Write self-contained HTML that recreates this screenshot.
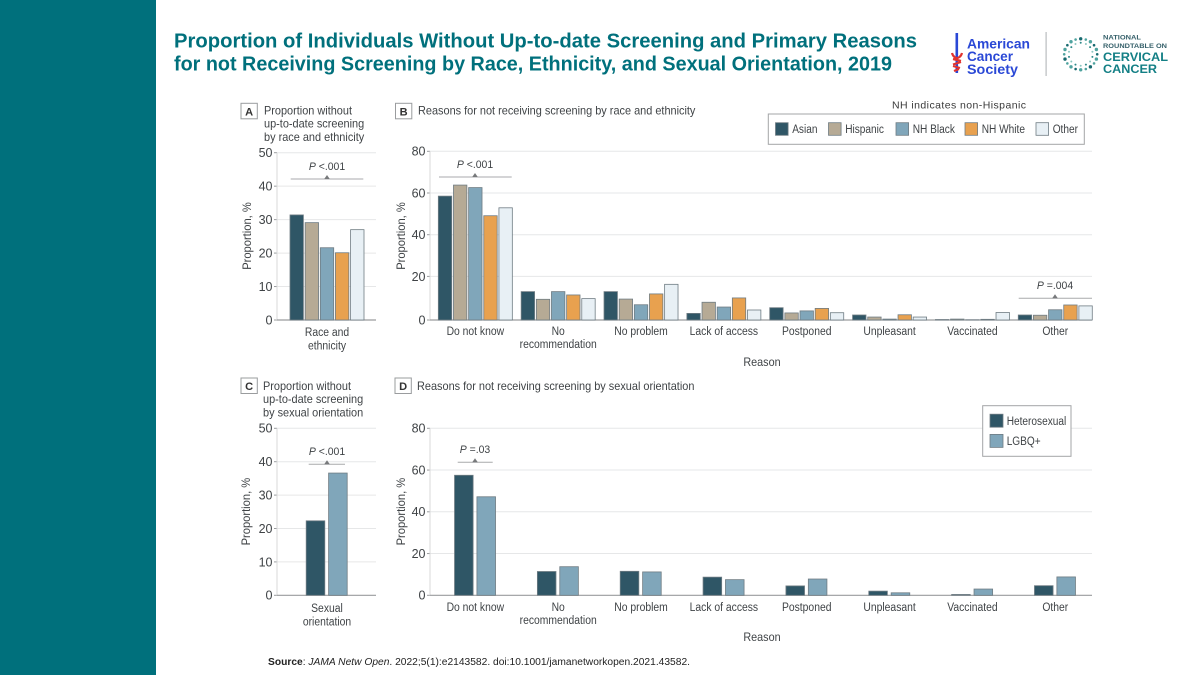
<!DOCTYPE html>
<html lang="en">
<head>
<meta charset="utf-8">
<title>Proportion of Individuals Without Up-to-date Screening</title>
<style>
html,body{margin:0;padding:0;background:#fff;width:1200px;height:675px;overflow:hidden}
svg{display:block;font-family:"Liberation Sans",sans-serif}
</style>
</head>
<body>
<svg id="slide" xmlns="http://www.w3.org/2000/svg" width="1200" height="675" viewBox="0 0 1200 675">
  <rect x="0" y="0" width="1200" height="675" fill="#fff"/>
  <rect x="0" y="0" width="156" height="675" fill="#00707c"/>
  <g fill="#00707c" font-weight="700" font-size="20">
    <text x="174" y="47.5" textLength="743" lengthAdjust="spacingAndGlyphs">Proportion of Individuals Without Up-to-date Screening and Primary Reasons</text>
    <text x="174" y="70.5" textLength="718" lengthAdjust="spacingAndGlyphs">for not Receiving Screening by Race, Ethnicity, and Sexual Orientation, 2019</text>
  </g>
  <g>
    <rect x="955.5" y="33" width="2.6" height="40" fill="#2a48d6"/>
    <path d="M952 53c1 4 4 5 5 5s4-1 5-5M953 59l8 2M961 62l-8 2.500M953 66l7 2M959 69l-5 2" fill="none" stroke="#e0332f" stroke-width="2.200"/>
    <g fill="#2a48d6" font-weight="700" font-size="13.500">
      <text x="967" y="48.5" textLength="63" lengthAdjust="spacingAndGlyphs">American</text>
      <text x="967" y="61" textLength="46" lengthAdjust="spacingAndGlyphs">Cancer</text>
      <text x="967" y="74" textLength="51" lengthAdjust="spacingAndGlyphs">Society</text>
    </g>
    <rect x="1045.5" y="32" width="1.2" height="44" fill="#b8bcbf"/>
  </g>
  <g id="roundtable-logo">
    <g fill="#35606a">
      <text x="1103" y="39.5" font-size="6.500" font-weight="700" textLength="38" lengthAdjust="spacingAndGlyphs">NATIONAL</text>
      <text x="1103" y="48" font-size="6.500" font-weight="700" textLength="64" lengthAdjust="spacingAndGlyphs">ROUNDTABLE ON</text>
    </g>
    <g fill="#137f85" font-weight="700" font-size="12.200">
      <text x="1103" y="61" textLength="65" lengthAdjust="spacingAndGlyphs">CERVICAL</text>
      <text x="1103" y="72.8" textLength="54" lengthAdjust="spacingAndGlyphs">CANCER</text>
    </g>
  </g>
  <text x="892" y="108.5" font-size="10.500" fill="#3a3a3a" textLength="134" lengthAdjust="spacing">NH indicates non-Hispanic</text>
  <g id="charts"></g>
  <text x="268" y="665" font-size="10" fill="#222" textLength="422" lengthAdjust="spacingAndGlyphs"><tspan font-weight="700">Source</tspan>: <tspan font-style="italic">JAMA Netw Open</tspan>. 2022;5(1):e2143582. doi:10.1001/jamanetworkopen.2021.43582.</text>
</svg>
<script>
// ---- chart data ----
const reasonCategories = ["Do not know", "No|recommendation", "No problem", "Lack of access", "Postponed", "Unpleasant", "Vaccinated", "Other"];
const raceGroups = ["Asian", "Hispanic", "NH Black", "NH White", "Other"];
const orientationGroups = ["Heterosexual", "LGBQ+"];

const ticksA = [0, 10, 20, 30, 40, 50];
const ticksB = [0, 20, 40, 60, 80];

const raceOverall = [31.4, 29.1, 21.6, 20.1, 27];
const orientationOverall = [22.3, 36.6];

const asianReasons = [58.5, 12.7, 12.7, 2.9, 5.4, 2.2, 0.2, 2.2];
const hispanicReasons = [63.8, 9.1, 9.2, 7.8, 3.1, 1.3, 0.4, 2.1];
const nhBlackReasons = [62.6, 12.7, 6.7, 5.7, 4, 0.4, 0.1, 4.5];
const nhWhiteReasons = [49.1, 11.1, 11.6, 9.7, 5.1, 2.3, 0.3, 6.6];
const otherReasons = [52.9, 9.4, 16.2, 4.4, 3.2, 1.3, 3.3, 6.2];

const heterosexualReasons = [57.5, 11.4, 11.5, 8.7, 4.5, 2, 0.4, 4.6];
const lgbqReasons = [47.2, 13.7, 11.2, 7.5, 7.8, 1.2, 3, 8.8];

// ---- helpers ----
const NS = "http://www.w3.org/2000/svg";
const root = document.getElementById("charts");
const INK = "#3f4346";
const AXIS = "#9a9c9e";
const GRID = "#e6e7e8";
const EDGE = "#6f7c83";
const raceColors = ["#2f5666", "#b6aa95", "#80a6ba", "#e8a14f", "#e8f0f5"];
const orientationColors = ["#2f5666", "#80a6ba"];

function shape(tag, attrs, name, parent) {
  const el = document.createElementNS(NS, tag);
  for (const k in attrs) el.setAttribute(k, attrs[k]);
  
  
  (parent || root).appendChild(el);
  return el;
}
function label(x, y, str, name, opts) {
  const o = opts || {};
  const el = shape("text", {x: x, y: y, "font-size": o.size || 11.5, fill: o.fill || INK, "text-anchor": o.anchor || "start"}, name, o.parent);
  if (o.bold) el.setAttribute("font-weight", "700");
  if (o.rotate) el.setAttribute("transform", "rotate(-90 " + x + " " + y + ")");
  if (o.pfx) {
    const t = document.createElementNS(NS, "tspan");
    t.setAttribute("font-style", "italic");
    t.textContent = "P";
    el.appendChild(t);
    el.appendChild(document.createTextNode(" " + str));
  } else {
    el.textContent = str;
  }
  const w = el.getComputedTextLength();
  if (w > 0) {
    el.setAttribute("textLength", (w * (o.squeeze || 0.9)).toFixed(1));
    el.setAttribute("lengthAdjust", "spacingAndGlyphs");
  }
  return el;
}
function linearScale(ticks, base, top) {
  const max = ticks[ticks.length - 1];
  return v => base - (v / max) * (base - top);
}
function axes(name, ticks, y, left, right, base) {
  const g = shape("g", {}, name + "-axes");
  const top = y(ticks[ticks.length - 1]);
  ticks.forEach(t => {
    if (t !== 0) shape("line", {x1: left, x2: right, y1: y(t), y2: y(t), stroke: GRID, "stroke-width": 1}, name + "-gridline", g);
    shape("line", {x1: left - 3, x2: left, y1: y(t), y2: y(t), stroke: AXIS, "stroke-width": 1}, name + "-tick", g);
    label(left - 4.5, y(t) + 4.4, String(t), name + "-tick-label", {anchor: "end", size: 12.5, parent: g, squeeze: 1});
  });
  shape("line", {x1: left, x2: left, y1: top, y2: base, stroke: "#d8d9da", "stroke-width": 1}, name + "-y-axis", g);
  shape("line", {x1: left, x2: right, y1: base, y2: base, stroke: AXIS, "stroke-width": 1.2}, name + "-x-axis", g);
}
function bar(cx, v, w, y, base, color, name) {
  shape("rect", {x: cx - w / 2, y: y(v), width: w, height: Math.max(base - y(v), 0), fill: color, stroke: EDGE, "stroke-width": 0.8}, name);
}
function marker(cx, x1, x2, lineY, textY, text, name) {
  shape("line", {x1: x1, x2: x2, y1: lineY, y2: lineY, stroke: "#a8aaac", "stroke-width": 1}, name + "-bracket");
  shape("path", {d: "M" + (cx - 2.8) + " " + lineY + "L" + cx + " " + (lineY - 4) + "L" + (cx + 2.8) + " " + lineY + "Z", fill: "#77797b"}, name + "-arrow");
  label(cx, textY, text, name + "-p-value", {anchor: "middle", size: 11, pfx: true, squeeze: 0.95});
}
function panelHead(x, y, letter, lines, tx, firstY, name) {
  shape("rect", {x: x, y: y, width: 16.3, height: 15.5, fill: "#fff", stroke: "#9a9c9e", "stroke-width": 1}, name + "-badge");
  label(x + 8.1, y + 12, letter, name + "-letter", {anchor: "middle", size: 11, bold: true, fill: "#333", squeeze: 1});
  lines.forEach((s, i) => label(tx, firstY + i * 13.2, s, name + "-title-line", {size: 12, fill: "#3f4346", squeeze: 0.91}));
}
function yTitle(x, cy, name) {
  label(x, cy, "Proportion, %", name, {anchor: "middle", size: 12, rotate: true, squeeze: 0.93});
}
function multiline(cx, y, str, step, name) {
  str.split("|").forEach((s, i) => label(cx, y + i * step, s, name, {anchor: "middle", size: 11.5}));
}

// ---- Panel A ----
panelHead(241, 103.3, "A", ["Proportion without", "up-to-date screening", "by race and ethnicity"], 264, 114.5, "panel-a");
yTitle(251, 236, "panel-a-y-title");
const yA = linearScale(ticksA, 320, 152.7);
axes("panel-a", ticksA, yA, 277, 376, 320);
raceOverall.forEach((v, i) => bar(327 + (i - 2) * 15.15, v, 13.4, yA, 320, raceColors[i], "panel-a-bar-" + raceGroups[i].toLowerCase().replace(" ", "-")));
multiline(327, 336, "Race and|ethnicity", 13.5, "panel-a-x-label");
marker(327, 290.7, 363.3, 179, 170, "<.001", "panel-a");

// ---- Panel B ----
panelHead(395.5, 103.3, "B", ["Reasons for not receiving screening by race and ethnicity"], 418, 114.5, "panel-b");
yTitle(405, 236, "panel-b-y-title");
// the source figure has a small lift between the baseline and the first gridlines
const yB = v => 320 - (1.9 * Math.min(1, v / 10) + v * 2.085);
axes("panel-b", ticksB, yB, 430, 1092, 320);
const bandLeft = 433.9;
const bandWidth = 82.85;
const band = i => bandLeft + (i + 0.5) * bandWidth;
const raceSeries = [asianReasons, hispanicReasons, nhBlackReasons, nhWhiteReasons, otherReasons];
raceSeries.forEach((series, j) => {
  series.forEach((v, i) => bar(band(i) + (j - 2) * 15.15, v, 13.4, yB, 320, raceColors[j], "panel-b-bar-" + raceGroups[j].toLowerCase().replace(" ", "-")));
});
reasonCategories.forEach((c, i) => multiline(band(i), 335, c, 13, "panel-b-x-label"));
label(762, 366, "Reason", "panel-b-x-title", {anchor: "middle", size: 12});
marker(475, 439, 511.7, 177, 168, "<.001", "panel-b-first");
marker(1055, 1018.7, 1092, 298.3, 289, "=.004", "panel-b-other");

// legend B
const legB = shape("g", {}, "race-legend");
shape("rect", {x: 768.3, y: 114, width: 316, height: 30.3, fill: "#fff", stroke: "#a3a5a7", "stroke-width": 1}, "race-legend-frame", legB);
const legendBX = [775.5, 828.5, 896, 965, 1036];
raceGroups.forEach((g, i) => {
  shape("rect", {x: legendBX[i], y: 122.7, width: 12.6, height: 12.6, fill: raceColors[i], stroke: EDGE, "stroke-width": 0.8}, "race-legend-swatch", legB);
  label(legendBX[i] + 16.7, 133, g, "race-legend-label", {size: 11.5, parent: legB, squeeze: 0.88});
});

// ---- Panel C ----
panelHead(241, 378, "C", ["Proportion without", "up-to-date screening", "by sexual orientation"], 263, 390, "panel-c");
yTitle(250, 511.6, "panel-c-y-title");
const yC = linearScale(ticksA, 595.3, 428.3);
axes("panel-c", ticksA, yC, 277, 376, 595.3);
orientationOverall.forEach((v, i) => bar(315.5 + i * 22.4, v, 18.6, yC, 595.3, orientationColors[i], "panel-c-bar-" + orientationGroups[i].toLowerCase()));
multiline(327, 612, "Sexual|orientation", 13.5, "panel-c-x-label");
marker(327, 308.7, 345, 464.3, 455, "<.001", "panel-c");

// ---- Panel D ----
panelHead(395, 378, "D", ["Reasons for not receiving screening by sexual orientation"], 417, 390, "panel-d");
yTitle(405, 511.6, "panel-d-y-title");
const yD = linearScale(ticksB, 595.3, 428.3);
axes("panel-d", ticksB, yD, 430, 1092, 595.3);
const orientationSeries = [heterosexualReasons, lgbqReasons];
orientationSeries.forEach((series, j) => {
  series.forEach((v, i) => bar(band(i) - 0.3 + (j - 0.5) * 22.4, v, 18.6, yD, 595.3, orientationColors[j], "panel-d-bar-" + orientationGroups[j].toLowerCase()));
});
reasonCategories.forEach((c, i) => multiline(band(i), 611, c, 13, "panel-d-x-label"));
label(762, 641, "Reason", "panel-d-x-title", {anchor: "middle", size: 12});
marker(475, 457.7, 492.7, 462.3, 453, "=.03", "panel-d-first");

// legend D
const legD = shape("g", {}, "orientation-legend");
shape("rect", {x: 982.7, y: 405.7, width: 88.3, height: 50.6, fill: "#fff", stroke: "#a3a5a7", "stroke-width": 1}, "orientation-legend-frame", legD);
orientationGroups.forEach((g, i) => {
  shape("rect", {x: 990, y: 414.2 + i * 20.2, width: 13, height: 13, fill: orientationColors[i], stroke: EDGE, "stroke-width": 0.8}, "orientation-legend-swatch", legD);
  label(1006.7, 425 + i * 20.2, g, "orientation-legend-label", {size: 11.5, parent: legD, squeeze: 0.88});
});

// ---- round table logo ring (decorative) ----
const logo = document.getElementById("roundtable-logo");
for (let i = 0; i < 20; i++) {
  const a = i / 20 * Math.PI * 2;
  shape("circle", {cx: 1080.7 + 16.5 * Math.cos(a), cy: 54.3 + 15.5 * Math.sin(a), r: i % 2 ? 1.7 : 1.3, fill: i % 3 ? "#4fa39f" : "#17696f"}, "logo-ring-dot", logo);
}
for (let i = 0; i < 14; i++) {
  const a = (i + 0.5) / 14 * Math.PI * 2;
  shape("circle", {cx: 1080.7 + 12 * Math.cos(a), cy: 54.3 + 11.5 * Math.sin(a), r: 1, fill: i % 2 ? "#8cc6c1" : "#2f8a8a"}, "logo-ring-dot", logo);
}
</script>
</body>
</html>
